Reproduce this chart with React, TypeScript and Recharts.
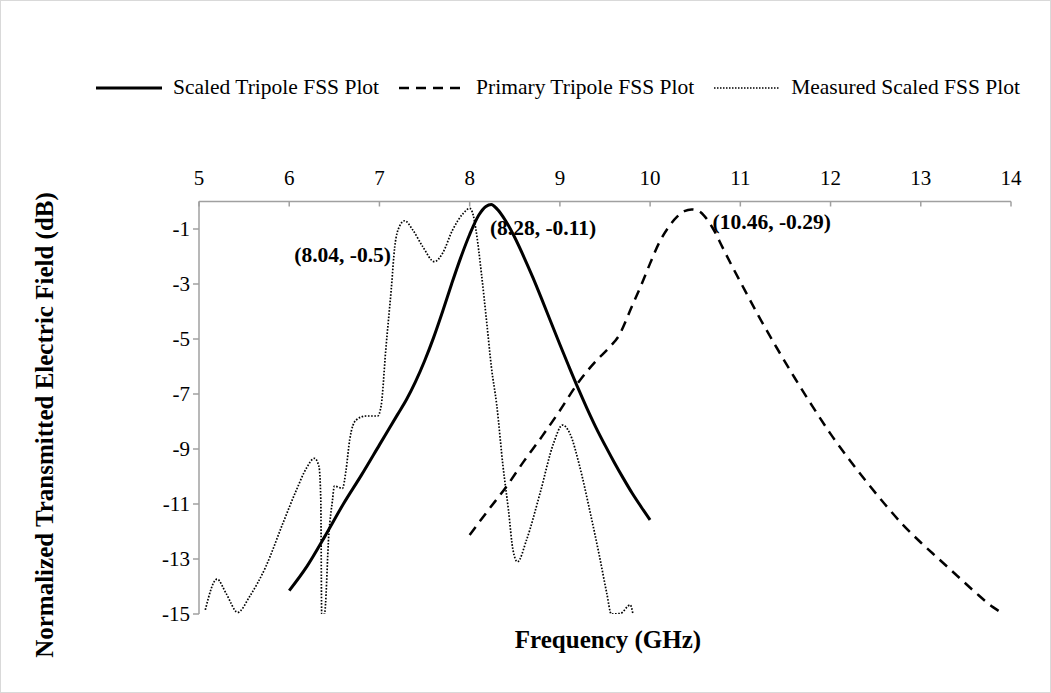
import { LineChart, Line, XAxis, YAxis, ReferenceDot } from "recharts";

const serif = "'Liberation Serif', 'Times New Roman', serif";

// Scaled Tripole FSS (solid)
const scaledFreq = [6.0, 6.2, 6.4, 6.6, 6.8, 7.0, 7.2, 7.3, 7.4, 7.5, 7.6, 7.7, 7.8, 7.9, 8.0, 8.1, 8.18, 8.24, 8.3, 8.4, 8.5, 8.6, 8.7, 8.8, 8.9, 9.0, 9.1, 9.2, 9.3, 9.4, 9.5, 9.6, 9.7, 9.8, 9.9, 10.0];
const scaledDb = [-14.15, -13.25, -12.15, -11.0, -9.95, -8.85, -7.75, -7.2, -6.55, -5.8, -4.95, -4.0, -3.0, -2.05, -1.2, -0.5, -0.18, -0.11, -0.26, -0.71, -1.31, -2.01, -2.76, -3.56, -4.38, -5.2, -6.0, -6.78, -7.52, -8.22, -8.86, -9.47, -10.05, -10.6, -11.1, -11.58];

// Primary Tripole FSS (dashed)
const primaryFreq = [8.0, 8.2, 8.4, 8.6, 8.8, 9.0, 9.2, 9.4, 9.55, 9.65, 9.8, 9.9, 10.0, 10.1, 10.2, 10.3, 10.38, 10.46, 10.54, 10.6, 10.7, 10.8, 10.9, 11.0, 11.2, 11.4, 11.6, 11.8, 12.0, 12.2, 12.4, 12.6, 12.8, 13.0, 13.2, 13.4, 13.6, 13.8, 13.92];
const primaryDb = [-12.13, -11.25, -10.4, -9.45, -8.55, -7.6, -6.6, -5.8, -5.3, -4.9, -3.8, -3.05, -2.25, -1.5, -0.95, -0.55, -0.35, -0.29, -0.35, -0.52, -1.0, -1.65, -2.3, -2.92, -4.15, -5.3, -6.4, -7.45, -8.45, -9.35, -10.2, -11.0, -11.75, -12.4, -13.0, -13.6, -14.2, -14.75, -15.0];

// Measured Scaled FSS (dotted)
const measuredFreq = [5.07, 5.2, 5.3, 5.43, 5.56, 5.74, 5.93, 6.08, 6.19, 6.28, 6.33, 6.35, 6.36, 6.39, 6.44, 6.48, 6.5, 6.59, 6.63, 6.67, 6.74, 6.85, 6.98, 7.02, 7.07, 7.13, 7.17, 7.22, 7.28, 7.37, 7.48, 7.61, 7.7, 7.81, 7.93, 8.0, 8.04, 8.07, 8.13, 8.19, 8.24, 8.3, 8.37, 8.43, 8.48, 8.53, 8.63, 8.78, 8.93, 9.03, 9.11, 9.22, 9.33, 9.44, 9.52, 9.57, 9.67, 9.78, 9.81];
const measuredDb = [-14.85, -13.73, -14.25, -14.94, -14.37, -13.28, -11.7, -10.49, -9.7, -9.34, -9.64, -10.85, -15.0, -15.0, -12.06, -10.85, -10.35, -10.43, -9.76, -8.67, -7.95, -7.8, -7.8, -7.4, -5.4, -3.22, -1.64, -0.92, -0.7, -1.04, -1.64, -2.19, -1.88, -1.04, -0.43, -0.25, -0.5, -1.04, -2.61, -4.43, -6.0, -7.4, -9.64, -11.22, -12.67, -13.1, -12.31, -10.61, -8.79, -8.13, -8.43, -9.64, -11.22, -12.92, -14.25, -15.0, -14.98, -14.67, -15.0];

const xTicks = [5, 6, 7, 8, 9, 10, 11, 12, 13, 14];
const yTicks = [-15, -13, -11, -9, -7, -5, -3, -1];

const seriesNames = ["Scaled Tripole FSS Plot", "Primary Tripole FSS Plot", "Measured Scaled FSS Plot"];
const peakFreq = [8.04, 8.28, 10.46];
const peakDb = [-0.5, -0.11, -0.29];
const peakText = ["(8.04, -0.5)", "(8.28, -0.11)", "(10.46, -0.29)"];
const peakOffset = [[-179, 47], [-5, 30], [21, 20]];

const toRows = (xs: number[], ys: number[]) => xs.map((f, i) => ({ f, db: ys[i] }));
const scaledData = toRows(scaledFreq, scaledDb);
const primaryData = toRows(primaryFreq, primaryDb);
const measuredData = toRows(measuredFreq, measuredDb);

const axisGray = "#a0a0a0";

const TopTick = (props: any) => {
  const { x, y, payload } = props;
  return (
    <g>
      <line x1={x} x2={x} y1={y} y2={y + 5} stroke={axisGray} strokeWidth={1.5} />
      <text x={x} y={y - 17} textAnchor="middle" fontFamily={serif} fontSize={21} fill="#000">
        {payload.value}
      </text>
    </g>
  );
};

const peakLabel = (i: number) => (props: any) => {
  const vb = props.viewBox || {};
  const cx = (vb.x ?? 0) + (vb.width ?? 0) / 2;
  const cy = (vb.y ?? 0) + (vb.height ?? 0) / 2;
  return (
    <text x={cx + peakOffset[i][0]} y={cy + peakOffset[i][1]} fontFamily={serif} fontSize={21.5} fontWeight="bold" fill="#000">
      {peakText[i]}
    </text>
  );
};

const YTitle = () => (
  <text x={43} y={424} transform="rotate(-90, 43, 424)" textAnchor="middle" dominantBaseline="central" fontFamily={serif} fontSize={25} fontWeight="bold" fill="#000">
    Normalized Transmitted Electric Field (dB)
  </text>
);

const XTitle = () => (
  <text x={607} y={638} textAnchor="middle" dominantBaseline="central" fontFamily={serif} fontSize={25} fontWeight="bold" fill="#000">
    Frequency (GHz)
  </text>
);

const legendSample = [
  { width: 3, dash: undefined },
  { width: 2.5, dash: "10 7" },
  { width: 1.4, dash: "1.5 1.5" },
];

export default function App() {
  return (
    <div style={{ position: "absolute", left: 0, top: 0, width: 1051, height: 693, background: "#fff", border: "1px solid #d9d9d9", boxSizing: "border-box" }}>
      <div style={{ position: "absolute", left: 95, top: 74, display: "flex", alignItems: "center", fontFamily: serif, fontSize: 21.5, color: "#000", whiteSpace: "nowrap" }}>
        {seriesNames.map((name, i) => (
          <div key={name} style={{ display: "flex", alignItems: "center", marginRight: 20 }}>
            <svg width={66} height={10} style={{ marginRight: 11 }}>
              <line x1={0} x2={66} y1={5} y2={5} stroke="#000" strokeWidth={legendSample[i].width} strokeDasharray={legendSample[i].dash} />
            </svg>
            <span>{name}</span>
          </div>
        ))}
      </div>
      <LineChart width={1049} height={691} margin={{ top: 160.5, right: 39, bottom: 0, left: -1 }} style={{ position: "absolute", left: 0, top: 0 }}>
        <XAxis
          dataKey="f"
          type="number"
          orientation="top"
          domain={[5, 14]}
          ticks={xTicks}
          interval={0}
          height={40}
          tickSize={0}
          tickMargin={0}
          tickLine={false}
          axisLine={{ stroke: axisGray, strokeWidth: 1.5 }}
          tick={<TopTick />}
          allowDataOverflow
        />
        <XAxis
          xAxisId="bottom"
          dataKey="f"
          type="number"
          orientation="bottom"
          domain={[5, 14]}
          height={78}
          axisLine={false}
          tickLine={false}
          tick={false}
          label={XTitle}
        />
        <YAxis
          type="number"
          domain={[-15, 0]}
          ticks={yTicks}
          interval={0}
          width={199}
          tickSize={6}
          tickMargin={3}
          allowDataOverflow
          axisLine={{ stroke: axisGray, strokeWidth: 1.5 }}
          tickLine={{ stroke: axisGray, strokeWidth: 1.5 }}
          tick={{ fill: "#000", fontSize: 21, fontFamily: serif }}
          label={YTitle}
        />
        <Line data={measuredData} dataKey="db" type="monotone" stroke="#000" strokeWidth={1.7} strokeDasharray="1.6 1.6" dot={false} isAnimationActive={false} />
        <Line data={primaryData} dataKey="db" type="monotone" stroke="#000" strokeWidth={2.5} strokeDasharray="10 7" dot={false} isAnimationActive={false} />
        <Line data={scaledData} dataKey="db" type="monotone" stroke="#000" strokeWidth={3} dot={false} isAnimationActive={false} />
        {peakFreq.map((f, i) => (
          <ReferenceDot key={peakText[i]} x={f} y={peakDb[i]} r={0} fill="none" stroke="none" label={peakLabel(i)} />
        ))}
      </LineChart>
    </div>
  );
}
